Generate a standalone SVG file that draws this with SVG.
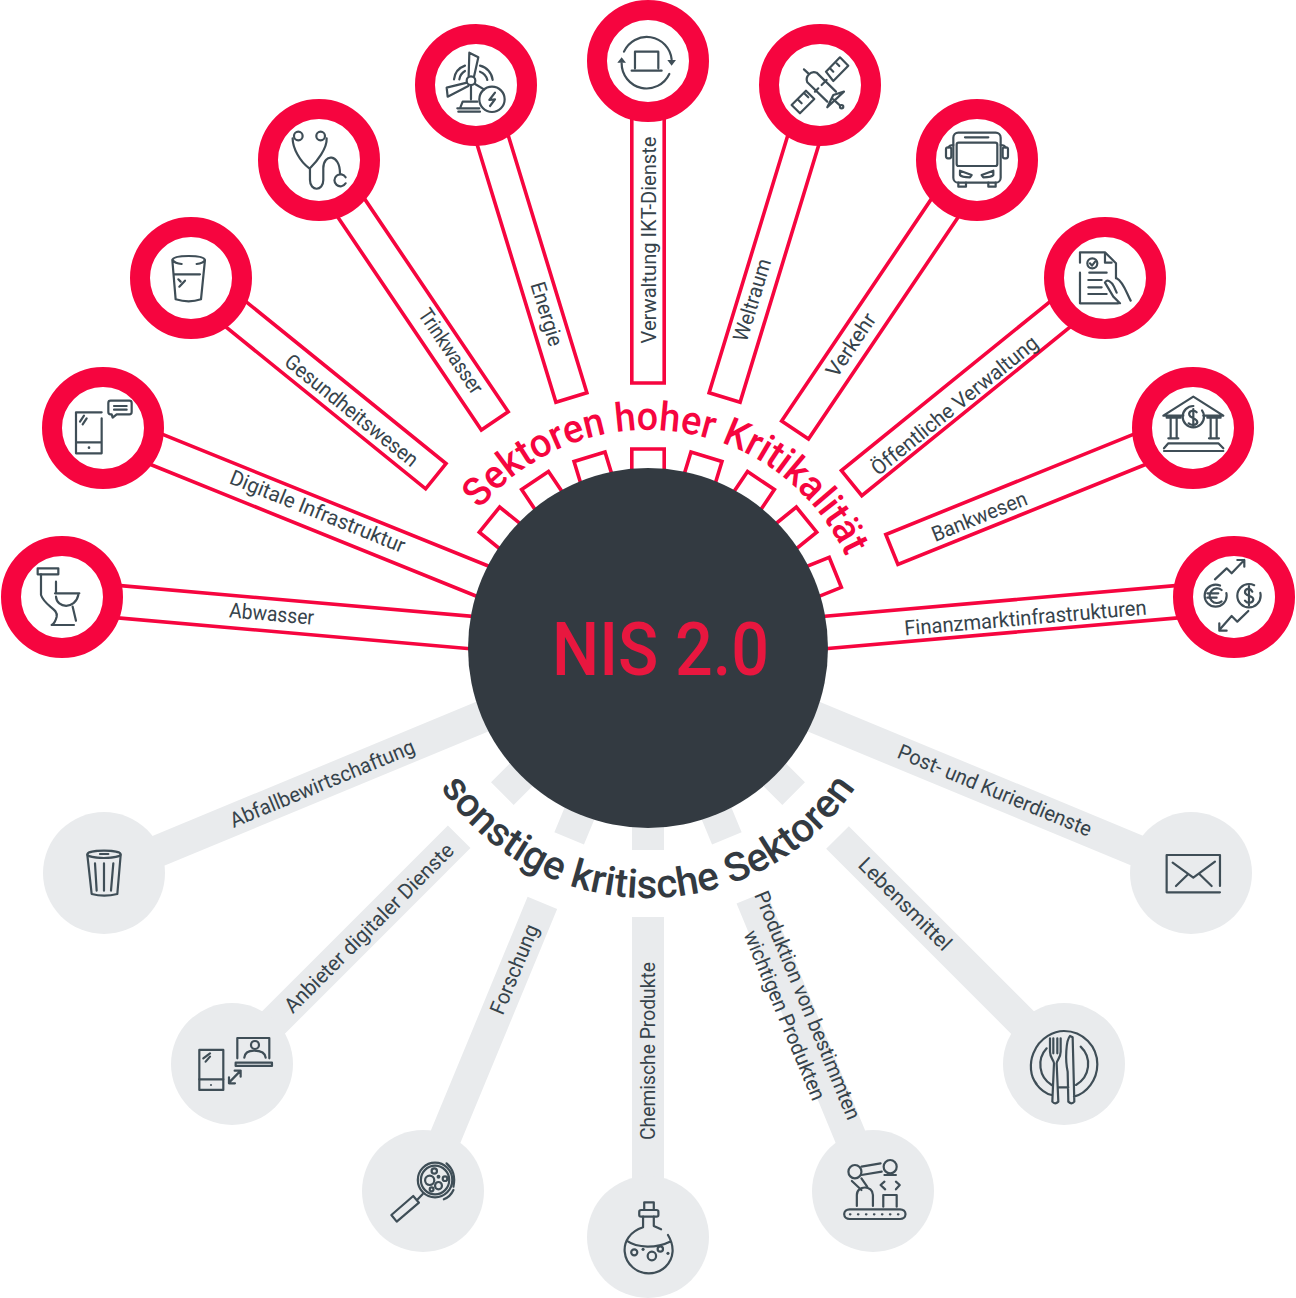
<svg xmlns="http://www.w3.org/2000/svg" width="1296" height="1298" viewBox="0 0 1296 1298">
<style>
text{font-family:"Roboto","Noto Sans",sans-serif}
.lb{font-size:21px;fill:#36434b;text-anchor:middle}
.rs{fill:none;stroke:#f6053f;stroke-width:3.6;stroke-linejoin:miter}
.gs{fill:#e9ebed}
.rn{fill:#fff;stroke:#f6053f;stroke-width:20}
.gn{fill:#e9ebed}
.ic{fill:none;stroke:#3f4e57;stroke-linecap:round;stroke-linejoin:round;stroke-width:2.2}
.ic *{vector-effect:non-scaling-stroke}
.fd{fill:#3f4e57;stroke:none}
</style>
<defs>
<path id="ta" d="M479.8,509.3 A218,218 0 0 1 862.7,610.1"/>
<path id="tb" d="M440.2,787.1 A250,250 0 0 0 894.2,691.4"/>
</defs>
<g id="connectors">
<path class="rs" transform="rotate(-85 648 648)" d="M631.8,648 V100 M664.2,100 V648"/>
<path class="rs" transform="rotate(-68 648 648)" d="M631.8,648 V100 M664.2,100 V648"/>
<path class="rs" transform="rotate(-51 648 648)" d="M631.8,100 V375 H664.2 V100 M631.8,648 V444 H664.2 V648"/>
<path class="rs" transform="rotate(-34 648 648)" d="M631.8,100 V374 H664.2 V100 M631.8,648 V446 H664.2 V648"/>
<path class="rs" transform="rotate(-17 648 648)" d="M631.8,100 V386 H664.2 V100 M631.8,648 V448 H664.2 V648"/>
<path class="rs" d="M631.8,100 V383 H664.2 V100 M631.8,648 V449 H664.2 V648"/>
<path class="rs" transform="rotate(17 648 648)" d="M631.8,100 V386 H664.2 V100 M631.8,648 V448 H664.2 V648"/>
<path class="rs" transform="rotate(34 648 648)" d="M631.8,100 V385 H664.2 V100 M631.8,648 V446 H664.2 V648"/>
<path class="rs" transform="rotate(51 648 648)" d="M631.8,100 V386 H664.2 V100 M631.8,648 V444 H664.2 V648"/>
<path class="rs" transform="rotate(68 648 648)" d="M631.8,100 V385 H664.2 V100 M631.8,648 V446 H664.2 V648"/>
<path class="rs" transform="rotate(85 648 648)" d="M631.8,648 V100 M664.2,100 V648"/>
<rect class="gs" x="632" y="100" width="32" height="548" transform="rotate(-112.5 648 648)"/>
<path class="gs" transform="rotate(-135 648 648)" d="M632,100 H664 V381 H632 Z M632,442 H664 V648 H632 Z"/>
<path class="gs" transform="rotate(-157.5 648 648)" d="M632,100 H664 V372 H632 Z M632,442 H664 V648 H632 Z"/>
<path class="gs" transform="rotate(180 648 648)" d="M632,100 H664 V379 H632 Z M632,446 H664 V648 H632 Z"/>
<path class="gs" transform="rotate(157.5 648 648)" d="M632,100 H664 V378 H632 Z M632,442 H664 V648 H632 Z"/>
<path class="gs" transform="rotate(135 648 648)" d="M632,100 H664 V380 H632 Z M632,442 H664 V648 H632 Z"/>
<rect class="gs" x="632" y="100" width="32" height="548" transform="rotate(112.5 648 648)"/>
</g>
<g id="hub">
<circle cx="648" cy="648" r="180" fill="#333a41"/>
<text x="552" y="675" font-size="75" font-weight="500" fill="#e8173f" textLength="217" lengthAdjust="spacingAndGlyphs">NIS 2.0</text>
</g>
<g id="title-high"><text font-size="40" font-weight="500" fill="#f6053f"><textPath href="#ta" textLength="440" lengthAdjust="spacingAndGlyphs">Sektoren hoher Kritikalität</textPath></text></g>
<g id="title-other"><text font-size="40" font-weight="500" fill="#333a41"><textPath href="#tb" textLength="490" lengthAdjust="spacingAndGlyphs">sonstige kritische Sektoren</textPath></text></g>

<g id="n-abwasser"><circle class="rn" cx="62" cy="597" r="51"/>
<text class="lb" transform="translate(271,621) rotate(5)" textLength="85" lengthAdjust="spacingAndGlyphs">Abwasser</text>
<g class="ic" transform="translate(0,530) scale(.3333)"><rect x="113" y="115" width="62" height="18"/><path d="M123,133 V195 C135,230 175,235 170,260 Q165,280 155,285 H222 M218,230 L228,272 M168,155 V190 M165,190 H238 M168,200 C170,235 225,240 235,195"/></g></g>

<g id="n-digital"><circle class="rn" cx="103" cy="428" r="51"/>
<text class="lb" transform="translate(315,518) rotate(22)" textLength="187" lengthAdjust="spacingAndGlyphs">Digitale Infrastruktur</text>
<g class="ic" transform="translate(60,385) scale(.3333)"><path d="M125,82 H48 V205 H125 V100 M48,172 H125 M60,110 L72,92 M68,118 L80,100 M152,47 H208 Q215,47 215,54 V81 Q215,88 208,88 H170 L158,98 L155,88 H152 Q145,88 145,81 V54 Q145,47 152,47 Z M162,63 H200 M162,74 H200"/><circle class="fd" cx="87" cy="188" r="4"/></g></g>

<g id="n-gesundheit"><circle class="rn" cx="191" cy="278" r="51"/>
<text class="lb" transform="translate(347,416) rotate(39)" textLength="165" lengthAdjust="spacingAndGlyphs">Gesundheitswesen</text>
<g class="ic" transform="translate(0,90) scale(.3333)"><path d="M517,510 L527,628 Q567,640 603,628 L615,510 M517,510 Q520,498 566,498 Q612,498 615,510 Q610,520 590,522 M545,522 Q525,520 517,510 M522,553 H600 M535,568 L542,575 M538,590 L555,572"/></g></g>

<g id="n-trinkwasser"><circle class="rn" cx="319" cy="160" r="51"/>
<text class="lb" transform="translate(445,355) rotate(56)" textLength="98" lengthAdjust="spacingAndGlyphs">Trinkwasser</text>
<g class="ic" transform="translate(0,90) scale(.3333)"><circle cx="895" cy="138" r="13"/><circle cx="962" cy="138" r="13"/><path d="M878,145 C878,175 900,215 928,235 M980,145 C982,175 950,215 930,235 M930,235 V270 C930,305 970,305 970,270 V235 C970,190 1020,190 1020,250 M1037,262 A18,18 0 1 0 1037,280"/></g></g>

<g id="n-energie"><circle class="rn" cx="476" cy="85" r="51"/>
<text class="lb" transform="translate(540,316) rotate(73)" textLength="66" lengthAdjust="spacingAndGlyphs">Energie</text>
<g class="ic" transform="translate(400,0) scale(.3333)"><circle cx="213" cy="242" r="13"/><circle cx="276" cy="298" r="38"/><path d="M206,228 L208,158 L235,172 L222,230 M201,248 L140,263 L143,290 L205,258 M225,252 L252,268 M213,256 V298 M180,325 L188,305 H232 M172,325 H238 M175,335 H240 M285,278 L268,300 L285,298 L270,318 M162,238 A50,50 0 0 1 195,197 M178,238 A35,35 0 0 1 195,213 M240,197 A50,50 0 0 1 278,240 M240,215 A35,35 0 0 1 262,240"/></g></g>

<g id="n-ikt"><circle class="rn" cx="648" cy="61" r="51"/>
<text class="lb" transform="translate(656,240) rotate(-90)" textLength="207" lengthAdjust="spacingAndGlyphs">Verwaltung IKT-Dienste</text>
<g class="ic" transform="translate(400,0) scale(.3333)"><path d="M705,205 V155 H775 V205 M695,212 H785 M672,155 A75,75 0 0 1 815,178 M665,190 A75,75 0 0 0 808,222"/><path class="fd" d="M802,180 L815,197 L828,180 Z M652,188 L665,172 L678,188 Z"/></g></g>

<g id="n-weltraum"><circle class="rn" cx="820" cy="85" r="51"/>
<text class="lb" transform="translate(759,302) rotate(-73)" textLength="85" lengthAdjust="spacingAndGlyphs">Weltraum</text>
<g class="ic" transform="translate(400,0) scale(.3333)"><path d="M1278,215 L1320,172 L1345,197 L1300,243 Z M1175,315 L1218,272 L1243,297 L1200,340 Z M1222,247 A22,22 0 0 1 1250,218 L1308,275 M1222,247 L1282,305 M1282,322 L1300,285 L1332,275 Z M1300,298 L1320,316 M1212,208 L1225,220 M1245,275 L1255,265 M1265,255 L1280,240 M1290,205 L1300,215 M1310,190 L1318,198 M1195,300 L1205,310 M1215,282 L1225,292"/><circle cx="1325" cy="320" r="5"/></g></g>

<g id="n-verkehr"><circle class="rn" cx="977" cy="160" r="51"/>
<text class="lb" transform="translate(857,349) rotate(-56)" textLength="72" lengthAdjust="spacingAndGlyphs">Verkehr</text>
<g class="ic" transform="translate(890,90) scale(.3333)"><rect x="190" y="128" width="142" height="150" rx="15"/><rect x="200" y="158" width="122" height="70" rx="6"/><rect x="168" y="172" width="16" height="33" rx="6"/><rect x="338" y="172" width="16" height="33" rx="6"/><path d="M225,142 H295 M190,165 Q178,165 176,172 M332,165 Q344,165 346,172 M210,242 L245,255 L240,262 Q215,262 210,255 Z M310,242 L275,255 L280,262 Q305,262 310,255 Z M205,278 V290 H228 V278 M295,278 V290 H317 V278"/></g></g>

<g id="n-oeffentlich"><circle class="rn" cx="1105" cy="278" r="51"/>
<text class="lb" transform="translate(959,411) rotate(-39)" textLength="208" lengthAdjust="spacingAndGlyphs">Öffentliche Verwaltung</text>
<g class="ic" transform="translate(890,90) scale(.3333)"><circle cx="607" cy="520" r="15"/><path d="M570,518 V487 H645 L678,520 V565 M570,548 V640 H685 M645,492 V518 H665 M600,520 L606,527 L616,514 M598,548 H650 M595,570 H635 M595,592 H635 M595,612 H650 M680,565 C700,575 710,610 722,632 M645,578 C650,565 665,575 672,590 L680,608 M645,578 L670,620 L690,640"/></g></g>

<g id="n-bankwesen"><circle class="rn" cx="1193" cy="428" r="51"/>
<text class="lb" transform="translate(982,523) rotate(-22)" textLength="101" lengthAdjust="spacingAndGlyphs">Bankwesen</text>
<g class="ic" transform="translate(1150,385) scale(.3333)"><circle cx="130" cy="95" r="32" stroke-dasharray="50 10"/><path d="M100,92 H40 L130,35 L220,92 H160 M50,98 H92 M172,98 H212 M62,100 V160 M80,100 V160 M182,100 V160 M200,100 V160 M55,160 H85 M177,160 H207 M42,190 L55,175 H205 L220,190 M42,198 H220 M140,82 C130,72 115,78 118,90 C120,100 142,98 142,112 C140,122 122,122 116,115 M130,72 V125"/></g></g>

<g id="n-finanz"><circle class="rn" cx="1234" cy="597" r="51"/>
<text class="lb" transform="translate(1026,625) rotate(-5)" textLength="243" lengthAdjust="spacingAndGlyphs">Finanzmarktinfrastrukturen</text>
<g class="ic" transform="translate(1000,530) scale(.3333)"><circle cx="647" cy="197" r="33" stroke-dasharray="56 10"/><circle cx="747" cy="197" r="35" stroke-dasharray="60 10"/><path d="M665,180 A22,22 0 1 0 665,214 M622,190 H655 M622,203 H650 M757,185 C750,172 735,175 735,187 C735,200 760,195 760,208 C760,220 742,222 735,212 M747,168 V226 M645,148 L680,115 L695,130 L733,90 M712,90 H733 V110 M745,243 L712,275 L695,258 L658,300 M658,280 V302 H680"/></g></g>

<g id="n-abfall"><circle class="gn" cx="104" cy="873" r="61"/>
<text class="lb" transform="translate(325,790) rotate(-22.5)" textLength="198" lengthAdjust="spacingAndGlyphs">Abfallbewirtschaftung</text>
<g class="ic" transform="translate(30,800) scale(.3333)"><ellipse cx="222" cy="163" rx="50" ry="11"/><path d="M172,165 L185,282 Q222,292 262,282 L272,165 M195,190 L200,272 M222,190 V272 M250,190 L243,272 M210,162 H235"/></g></g>

<g id="n-anbieter"><circle class="gn" cx="232" cy="1064" r="61"/>
<text class="lb" transform="translate(374,933) rotate(-45)" textLength="230" lengthAdjust="spacingAndGlyphs">Anbieter digitaler Dienste</text>
<g class="ic" transform="translate(30,800) scale(.3333)"><rect x="508" y="750" width="72" height="120"/><circle class="fd" cx="543" cy="855" r="3"/><rect x="617" y="788" width="109" height="10"/><circle cx="675" cy="735" r="12"/><path d="M508,838 H580 M520,775 L540,760 M527,785 L540,770 M597,848 L632,812 M597,832 V850 H615 M614,812 H632 V830 M622,775 V714 H718 V775 M643,773 Q645,752 672,752 Q705,752 707,773"/></g></g>

<g id="n-forschung"><circle class="gn" cx="423" cy="1191" r="61"/>
<text class="lb" transform="translate(521,972) rotate(-67.5)" textLength="95" lengthAdjust="spacingAndGlyphs">Forschung</text>
<g class="ic" transform="translate(350,1120) scale(.3831,.3333)"><ellipse cx="222" cy="180" rx="45" ry="52"/><ellipse cx="222" cy="180" rx="37" ry="43"/><ellipse cx="208" cy="181" rx="12" ry="14"/><ellipse cx="231" cy="197" rx="9" ry="11"/><ellipse cx="220" cy="153" rx="7" ry="8"/><ellipse cx="248" cy="176" rx="6" ry="7"/><ellipse cx="213" cy="208" rx="5" ry="6"/><ellipse class="fd" cx="231" cy="170" rx="5" ry="6"/><path d="M252,130 Q278,155 270,200 M270,210 Q262,230 245,238 M165,228 L108,285 L122,305 L180,248 Z M175,240 L190,222"/></g></g>

<g id="n-chemie"><circle class="gn" cx="648" cy="1237" r="61"/>
<text class="lb" transform="translate(655,1051) rotate(-90)" textLength="178" lengthAdjust="spacingAndGlyphs">Chemische Produkte</text>
<g class="ic" transform="translate(350,1120) scale(.3831,.3333)"><rect x="755" y="270" width="50" height="20" rx="5"/><ellipse cx="742" cy="397" rx="8" ry="9"/><ellipse cx="788" cy="408" rx="11" ry="13"/><ellipse cx="810" cy="387" rx="7" ry="8"/><ellipse class="fd" cx="765" cy="388" rx="4" ry="5"/><ellipse class="fd" cx="830" cy="400" rx="4" ry="5"/><path d="M768,267 V247 H793 V267 M765,290 V322 C730,335 715,365 717,395 C720,435 750,460 780,460 C815,460 840,430 842,395 C843,375 838,360 830,345 M793,290 V318 L812,328 M722,362 C750,385 800,385 835,365"/></g></g>

<g id="n-produktion"><circle class="gn" cx="873" cy="1191" r="61"/>
<text class="lb" transform="translate(801,1008) rotate(67.5)" textLength="245" lengthAdjust="spacingAndGlyphs">Produktion von bestimmten</text>
<text class="lb" transform="translate(778,1018) rotate(67.5)" textLength="182" lengthAdjust="spacingAndGlyphs">wichtigen Produkten</text>
<g class="ic" transform="translate(350,1120) scale(.3831,.3333)"><rect x="1290" y="268" width="160" height="29" rx="14"/><ellipse cx="1318" cy="155" rx="17" ry="20"/><ellipse cx="1410" cy="140" rx="17" ry="20"/><path d="M1392,260 V225 H1427 V260 M1323,258 V225 C1323,195 1365,195 1365,225 V258 M1335,140 L1385,130 M1335,165 L1388,155 M1395,165 H1425 M1395,185 L1385,195 L1397,208 M1425,185 L1435,195 L1425,208 M1310,183 L1335,210 M1335,175 L1350,200"/><path stroke-dasharray="0.5 7.5" d="M1305,283 H1435"/></g></g>

<g id="n-lebensmittel"><circle class="gn" cx="1064" cy="1064" r="61"/>
<text class="lb" transform="translate(900,909) rotate(45)" textLength="122" lengthAdjust="spacingAndGlyphs">Lebensmittel</text>
<g class="ic" transform="translate(990,800) scale(.3333)"><path d="M140,852 C120,830 118,790 130,760 C150,710 195,693 222,693 C280,693 322,740 322,793 C322,840 290,880 252,890 M185,885 Q160,880 137,850 M170,745 A72,72 0 0 0 185,855 M272,740 A72,72 0 0 1 258,855 M180,715 V755 C180,775 192,780 192,790 L187,905 Q195,915 205,905 L200,790 C200,780 212,775 212,755 V715 M190,715 V760 M202,715 V760 M240,708 C228,720 225,780 233,815 L235,905 Q245,915 253,905 L248,712 Z M205,862 H235"/></g></g>

<g id="n-post"><circle class="gn" cx="1191" cy="873" r="61"/>
<text class="lb" transform="translate(992,797) rotate(22.5)" textLength="208" lengthAdjust="spacingAndGlyphs">Post- und Kurierdienste</text>
<g class="ic" transform="translate(990,800) scale(.3333)"><path d="M690,258 V165 H530 V277 H690 M548,188 L610,233 L675,185 M558,258 L595,222 M665,258 L628,222"/></g></g>
</svg>
